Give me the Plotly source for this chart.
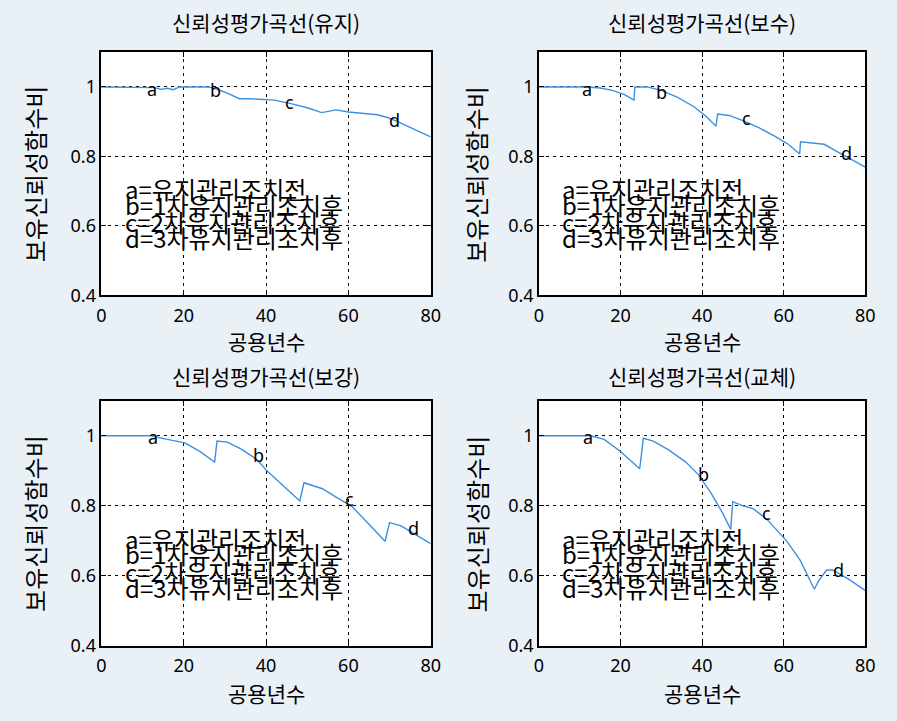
import plotly.graph_objects as go

# ---------------- data ----------------
titles = ["신뢰성평가곡선(유지)", "신뢰성평가곡선(보수)", "신뢰성평가곡선(보강)", "신뢰성평가곡선(교체)"]
x_label = "공용년수"
y_label = "보유신뢰성함수비"
legend_lines = ["a=유지관리조치전", "b=1차유지관리조치후", "c=2차유지관리조치후", "d=3차유지관리조치후"]
legend_y = [0.707, 0.663, 0.614, 0.566]
legend_x = 5.2

x_maint = [0, 10, 13, 14.5, 16, 17.5, 19, 26, 28, 31, 33.5, 36, 40, 42, 46, 50, 53.5, 55, 57, 60, 64, 67, 69.5, 72, 76, 80]
y_maint = [1, 1, 0.998, 0.993, 0.996, 0.992, 1.0, 1.0, 0.994, 0.98, 0.966, 0.966, 0.964, 0.962, 0.952, 0.94, 0.926, 0.93, 0.934, 0.928, 0.924, 0.92, 0.912, 0.9, 0.878, 0.856]

x_repair = [0, 12, 15, 18, 21, 23.3, 23.5, 26.5, 30, 34, 38, 41, 43.4, 43.8, 46.6, 50, 54, 58, 61.1, 63.9, 64.1, 67, 69.9, 73.1, 76, 80]
y_repair = [1, 1, 0.997, 0.99, 0.978, 0.962, 1.0, 1.0, 0.99, 0.97, 0.943, 0.915, 0.887, 0.922, 0.918, 0.903, 0.882, 0.857, 0.835, 0.807, 0.842, 0.838, 0.835, 0.814, 0.795, 0.769]

x_reinf = [0, 12, 16, 20.3, 24, 27.5, 28.1, 30.6, 34, 37.8, 40.2, 44, 48.2, 49.2, 53.7, 57, 60.9, 64, 68.9, 70, 72.8, 76, 80]
y_reinf = [1, 1, 0.99, 0.98, 0.955, 0.925, 0.985, 0.982, 0.962, 0.932, 0.9, 0.858, 0.814, 0.866, 0.849, 0.825, 0.798, 0.76, 0.699, 0.752, 0.743, 0.72, 0.692]

x_repl = [0, 12.7, 16, 19.9, 24.7, 25.6, 28, 31.8, 36, 39, 42, 45, 47, 47.5, 50, 52.5, 56, 60.7, 64, 67.5, 68.5, 69.5, 70.5, 72, 76, 80]
y_repl = [1, 1, 0.99, 0.956, 0.906, 0.993, 0.985, 0.96, 0.925, 0.89, 0.84, 0.78, 0.733, 0.812, 0.8, 0.792, 0.76, 0.70, 0.645, 0.562, 0.585, 0.6, 0.617, 0.617, 0.59, 0.558]

series_x = [x_maint, x_repair, x_reinf, x_repl]
series_y = [y_maint, y_repair, y_reinf, y_repl]

marks = ["a", "b", "c", "d"]
mark_x = [[10.7, 25.9, 44.2, 69.3], [10.0, 28.1, 49.4, 73.6], [10.8, 36.3, 58.6, 74.0], [10.4, 38.6, 54.1, 71.7]]
mark_y = [[0.995, 0.99, 0.957, 0.906], [0.995, 0.986, 0.91, 0.811], [0.997, 0.946, 0.82, 0.738], [0.997, 0.89, 0.78, 0.617]]

x_ticks = [0, 20, 40, 60, 80]
y_ticks = [0.4, 0.6, 0.8, 1.0]
y_tick_text = ["0.4", "0.6", "0.8", "1"]

# ---------------- layout ----------------
W, H = 897, 721
px_left = [98, 543, 98, 543]
px_right = [433, 875, 433, 875]
px_top = [53, 53, 407, 407]
px_bot = [300, 300, 656, 656]

LINE = "#3d8fe3"
KFONT = "Noto Sans CJK KR"
TFONT = "Noto Sans"
BG = "#e9f0f6"

fig = go.Figure()
annotations = []
layout = {}
for i in range(4):
    sx = "" if i == 0 else str(i + 1)
    xa, ya = "x" + sx, "y" + sx
    fig.add_trace(go.Scatter(x=series_x[i], y=series_y[i], mode="lines",
                             line=dict(color=LINE, width=1.4), xaxis=xa, yaxis=ya,
                             showlegend=False, hoverinfo="skip"))
    dom_x = [px_left[i] / W, px_right[i] / W]
    dom_y = [1 - px_bot[i] / H, 1 - px_top[i] / H]
    common = dict(showline=True, linecolor="black", linewidth=1.5, mirror="ticks",
                  ticks="inside", ticklen=5, tickcolor="black", tickwidth=1,
                  showgrid=True, gridcolor="black", gridwidth=1, griddash="3px,4px",
                  zeroline=False, tickfont=dict(family=TFONT, size=18, color="black"))
    layout["xaxis" + sx] = dict(domain=dom_x, range=[0, 80], tickvals=x_ticks, anchor=ya,
                                ticklabelstandoff=3, **common)
    layout["yaxis" + sx] = dict(domain=dom_y, range=[0.4, 1.1], tickvals=y_ticks,
                                ticktext=y_tick_text, anchor=xa, **common)
    cx = (px_left[i] + px_right[i]) / 2 / W
    # title
    ty = 22 if i < 2 else 382
    annotations.append(dict(text=titles[i], x=cx, y=1 - ty / H, xref="paper", yref="paper",
                            showarrow=False, font=dict(family=KFONT, size=21, color="black"),
                            xanchor="center", yanchor="middle"))
    # x label
    xl_y = 346 if i < 2 else 704
    annotations.append(dict(text=x_label, x=cx, y=1 - xl_y / H, xref="paper", yref="paper",
                            showarrow=False, font=dict(family=KFONT, size=21, color="black"),
                            xanchor="center", yanchor="middle"))
    # y label
    yl_x = 30 if i % 2 == 0 else 479
    yl_y = (px_top[i] + px_bot[i]) / 2
    annotations.append(dict(text=y_label, x=yl_x / W, y=1 - yl_y / H, xref="paper", yref="paper",
                            showarrow=False, textangle=-90,
                            font=dict(family=KFONT, size=24, color="black"),
                            xanchor="center", yanchor="middle"))
    # a-d markers
    for k in range(4):
        annotations.append(dict(text=marks[k], x=mark_x[i][k], y=mark_y[i][k], xref=xa, yref=ya,
                                showarrow=False, font=dict(family=TFONT, size=18, color="black"),
                                xanchor="left", yanchor="middle"))
    # legend text lines
    for k in range(4):
        annotations.append(dict(text=legend_lines[k], x=legend_x, y=legend_y[k], xref=xa, yref=ya,
                                showarrow=False, font=dict(family=KFONT, size=24, color="black"),
                                xanchor="left", yanchor="middle"))

fig.update_layout(width=W, height=H, margin=dict(l=0, r=0, t=0, b=0),
                  paper_bgcolor=BG, plot_bgcolor="white",
                  annotations=annotations, **layout)

fig.write_html("out.html", config={"displayModeBar": False},
               post_script="document.body.style.margin='0';document.body.style.overflow='hidden';"
                           "document.body.style.background='" + BG + "';")
